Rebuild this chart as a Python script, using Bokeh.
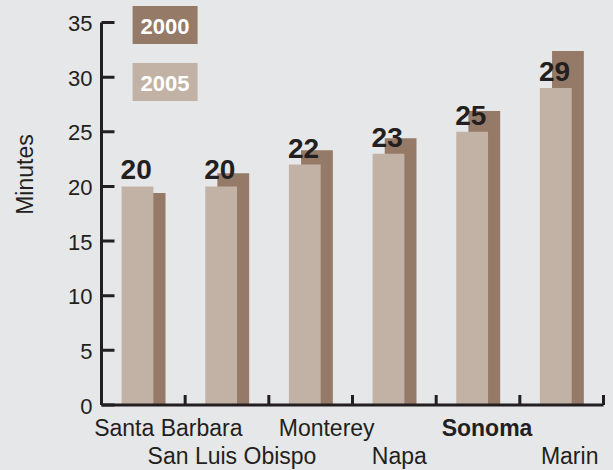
import numpy as np
from bokeh.plotting import figure
from bokeh.models import ColumnDataSource, Range1d
from bokeh.core.properties import value
from bokeh.embed import file_html
from bokeh.resources import INLINE

# ---- data ----
counties = ["Santa Barbara", "San Luis Obispo", "Monterey", "Napa", "Sonoma", "Marin"]
minutes_2000 = [19.4, 21.2, 23.3, 24.4, 26.9, 32.4]
minutes_2005 = [20, 20, 22, 23, 25, 29]
series_names = ["2000", "2005"]
y_ticks = [0, 5, 10, 15, 20, 25, 30, 35]
y_label = "Minutes"
highlight = "Sonoma"

# ---- style ----
BG = "#e6e7e9"
DARK = "#967a68"
LIGHT = "#c2b2a5"
INK = "#231f20"
FONT = "Liberation Sans"

n = len(counties)
centers = np.arange(n) + 0.5
bar_w = 0.38
x_light = centers - 0.07
x_dark = centers + 0.075

# frame covers the whole canvas; axes are drawn as glyphs so that
# nothing outside the frame gets clipped
p = figure(width=613, height=470,
           x_range=Range1d(-1.2072, n + 0.1195), y_range=Range1d(-5.993, 37.013),
           x_axis_location=None, y_axis_location=None,
           output_backend="svg", toolbar_location=None,
           min_border=0, min_border_left=0, min_border_right=0,
           min_border_top=0, min_border_bottom=0,
           background_fill_color=BG, border_fill_color=BG, outline_line_color=None)
p.grid.visible = False

# bars
src = ColumnDataSource(dict(x_dark=x_dark, x_light=x_light, v2000=minutes_2000, v2005=minutes_2005,
                            lab_x=x_light - bar_w / 2,
                            lab=[str(int(round(v))) for v in minutes_2005]))
p.vbar(x="x_dark", top="v2000", bottom=0, width=bar_w, source=src, fill_color=DARK, line_color=None)
p.vbar(x="x_light", top="v2005", bottom=0, width=bar_w, source=src, fill_color=LIGHT, line_color=None)

p.text(x="lab_x", y="v2005", text="lab", source=src, text_font=value(FONT), text_font_size="28px",
       text_font_style="bold", text_color=INK, text_align="left", text_baseline="alphabetic",
       x_offset=-1, y_offset=-16.5)

# axes (drawn)
y_top = max(y_ticks)
p.segment(x0=[0], y0=[0], x1=[0], y1=[y_top], line_color=INK, line_width=3)
p.segment(x0=[0], y0=[0], x1=[n], y1=[0], line_color=INK, line_width=3)
p.ray(x=[0] * len(y_ticks), y=y_ticks, length=13, length_units="screen", angle=0,
      line_color=INK, line_width=3)
p.ray(x=list(range(n + 1)), y=[0] * (n + 1), length=10, length_units="screen", angle=np.pi / 2,
      line_color=INK, line_width=3)
p.text(x=[0] * len(y_ticks), y=y_ticks, text=[str(t) for t in y_ticks], text_font=value(FONT),
       text_font_size="22px", text_color=INK, text_align="right", text_baseline="middle",
       x_offset=-9, y_offset=1)
p.text(x=[-0.914], y=[21.09], text=[y_label], angle=np.pi / 2, text_font=value(FONT),
       text_font_size="23px", text_color=INK, text_align="center", text_baseline="middle")

# legend boxes
leg = ColumnDataSource(dict(x=[0.76, 0.76], y=[34.77, 29.55], name=series_names, color=[DARK, LIGHT]))
p.rect(x="x", y="y", width=65, height=38, width_units="screen", height_units="screen",
       fill_color="color", line_color=None, source=leg)
p.text(x="x", y="y", text="name", source=leg, text_font=value(FONT), text_font_size="22px",
       text_font_style="bold", text_color="white", text_align="center", text_baseline="middle",
       y_offset=1)

# category labels, two staggered rows
nudge = [25, 5, 16, 5, 9, 8]
rows = [(22.7 if i % 2 == 0 else 50.7) for i in range(n)]
for style in ("normal", "bold"):
    idx = [i for i, c in enumerate(counties) if (c == highlight) == (style == "bold")]
    s = ColumnDataSource(dict(x=[centers[i] for i in idx], y=[0] * len(idx),
                              text=[counties[i] for i in idx],
                              dx=[nudge[i] for i in idx], dy=[rows[i] for i in idx]))
    p.text(x="x", y="y", text="text", source=s, x_offset="dx", y_offset="dy",
           text_font=value(FONT), text_font_size="23px", text_font_style=style,
           text_color=INK, text_align="center", text_baseline="alphabetic")

html = file_html(p, INLINE)
html = html.replace("</head>", "<style>html,body{background:%s;}</style></head>" % BG, 1)
open("out.html", "w").write(html)
